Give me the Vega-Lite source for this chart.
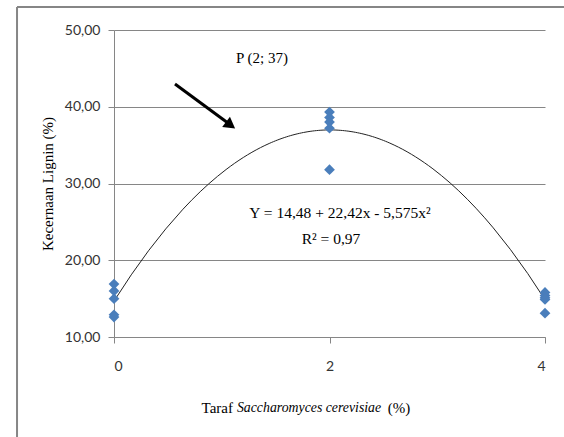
{
  "$schema": "https://vega.github.io/schema/vega-lite/v6.json",
  "autosize": "none",
  "width": 431,
  "height": 307,
  "padding": {"left": 114, "top": 30, "right": 19, "bottom": 100},
  "background": "white",
  "config": {
    "view": {"stroke": null},
    "axis": {"domainColor": "#868686", "tickColor": "#868686", "tickSize": 6,
      "labelFont": "Lato", "labelFontSize": 14, "labelColor": "#333333",
      "titleFont": "Liberation Serif, Times New Roman, serif", "titleFontSize": 15,
      "titleFontWeight": "normal", "titleColor": "black"},
    "axisX": {"grid": false, "labelPadding": 16},
    "axisY": {"grid": true, "gridColor": "#868686", "labelPadding": 8, "titlePadding": 9},
    "text": {"font": "Liberation Serif, Times New Roman, serif", "color": "black"}
  },
  "datasets": {
    "obs": [
      {"taraf": 0, "kecernaan": 16.9},
      {"taraf": 0, "kecernaan": 16.0},
      {"taraf": 0, "kecernaan": 15.0},
      {"taraf": 0, "kecernaan": 12.9},
      {"taraf": 0, "kecernaan": 12.6},
      {"taraf": 2, "kecernaan": 39.3},
      {"taraf": 2, "kecernaan": 38.6},
      {"taraf": 2, "kecernaan": 38.0},
      {"taraf": 2, "kecernaan": 37.2},
      {"taraf": 2, "kecernaan": 31.8},
      {"taraf": 4, "kecernaan": 15.8},
      {"taraf": 4, "kecernaan": 15.4},
      {"taraf": 4, "kecernaan": 15.1},
      {"taraf": 4, "kecernaan": 14.9},
      {"taraf": 4, "kecernaan": 13.1}
    ],
    "one": [{"k": 1}]
  },
  "layer": [
    {
      "data": {"name": "obs"},
      "transform": [{"regression": "kecernaan", "on": "taraf", "method": "poly", "order": 2}],
      "mark": {"type": "line", "color": "#222222", "strokeWidth": 1, "clip": false},
      "encoding": {
        "x": {"field": "taraf", "type": "quantitative",
          "scale": {"domain": [0, 4], "nice": false, "zero": false},
          "axis": {"values": [0, 2, 4], "format": "d", "title": null}},
        "y": {"field": "kecernaan", "type": "quantitative",
          "scale": {"domain": [10, 50], "nice": false, "zero": false},
          "axis": {"values": [10, 20, 30, 40, 50],
            "labelExpr": "replace(format(datum.value, '.2f'), '.', ',')",
            "title": "Kecernaan Lignin (%)"}}
      }
    },
    {
      "data": {"name": "obs"},
      "mark": {"type": "point", "shape": "diamond", "filled": true, "color": "#4A7EBB", "opacity": 1, "size": 115},
      "encoding": {
        "x": {"field": "taraf", "type": "quantitative"},
        "y": {"field": "kecernaan", "type": "quantitative"}
      }
    },
    {
      "data": {"name": "one"},
      "mark": {"type": "rule", "color": "black", "strokeWidth": 3},
      "encoding": {
        "x": {"datum": 0.566, "type": "quantitative"}, "y": {"datum": 42.96, "type": "quantitative"},
        "x2": {"datum": 1.07}, "y2": {"datum": 37.75}
      }
    },
    {
      "data": {"name": "one"},
      "mark": {"type": "point", "shape": "triangle-right", "filled": true, "color": "black", "opacity": 1, "size": 170, "angle": 36.6},
      "encoding": {"x": {"datum": 1.082, "type": "quantitative"}, "y": {"datum": 37.59, "type": "quantitative"}}
    },
    {
      "data": {"name": "one"},
      "mark": {"type": "text", "fontSize": 15},
      "encoding": {"x": {"datum": 1.374, "type": "quantitative"}, "y": {"datum": 46.35, "type": "quantitative"}, "text": {"value": "P (2; 37)"}}
    },
    {
      "data": {"name": "one"},
      "mark": {"type": "text", "fontSize": 15.5},
      "encoding": {"x": {"datum": 2.097, "type": "quantitative"}, "y": {"datum": 26.16, "type": "quantitative"}, "text": {"value": "Y = 14,48 + 22,42x - 5,575x²"}}
    },
    {
      "data": {"name": "one"},
      "mark": {"type": "text", "fontSize": 15.5},
      "encoding": {"x": {"datum": 2.014, "type": "quantitative"}, "y": {"datum": 22.77, "type": "quantitative"}, "text": {"value": "R² = 0,97"}}
    },
    {
      "data": {"name": "one"},
      "mark": {"type": "text", "fontSize": 15, "align": "right"},
      "encoding": {"x": {"datum": 1.104, "type": "quantitative"}, "y": {"datum": 0.75, "type": "quantitative"}, "text": {"value": "Taraf"}}
    },
    {
      "data": {"name": "one"},
      "mark": {"type": "text", "fontSize": 13.8, "fontStyle": "italic", "align": "center"},
      "encoding": {"x": {"datum": 1.81, "type": "quantitative"}, "y": {"datum": 0.75, "type": "quantitative"}, "text": {"value": "Saccharomyces cerevisiae"}}
    },
    {
      "data": {"name": "one"},
      "mark": {"type": "text", "fontSize": 15, "align": "left"},
      "encoding": {"x": {"datum": 2.54, "type": "quantitative"}, "y": {"datum": 0.75, "type": "quantitative"}, "text": {"value": "(%)"}}
    },
    {
      "data": {"name": "one"},
      "mark": {"type": "rule", "color": "#868686", "strokeWidth": 2},
      "encoding": {"x": {"datum": -0.9, "type": "quantitative"}, "y": {"datum": 53.0, "type": "quantitative"}, "x2": {"datum": 4.2}, "y2": {"datum": 53.0}}
    },
    {
      "data": {"name": "one"},
      "mark": {"type": "rule", "color": "#868686", "strokeWidth": 2},
      "encoding": {"x": {"datum": -0.9, "type": "quantitative"}, "y": {"datum": 53.0, "type": "quantitative"}, "x2": {"datum": -0.9}, "y2": {"datum": -3.1}}
    }
  ]
}
